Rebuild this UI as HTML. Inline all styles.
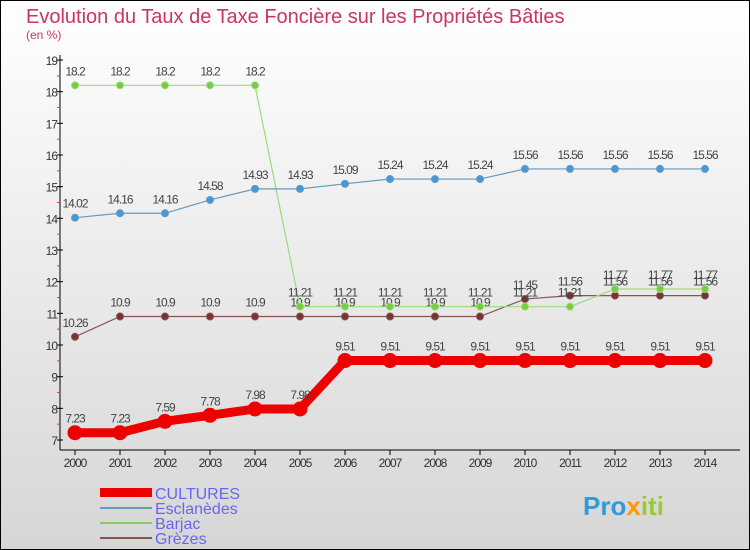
<!DOCTYPE html>
<html><head><meta charset="utf-8"><style>
body{margin:0}
#c{width:750px;height:550px;position:relative;overflow:hidden}
svg text{font-family:"Liberation Sans",sans-serif}
</style></head><body>
<div id="c">
<svg id="s" width="750" height="550" xmlns="http://www.w3.org/2000/svg">
<defs><linearGradient id="bg" x1="0" y1="0" x2="0" y2="1"><stop offset="0" stop-color="#ffffff"/><stop offset="1" stop-color="#d6d6d6"/></linearGradient></defs>
<rect x="0.5" y="0.5" width="749" height="549" fill="url(#bg)" stroke="#000"/>
<text x="26" y="23" font-size="20" fill="#cc3366">Evolution du Taux de Taxe Foncière sur les Propriétés Bâties</text>
<text x="26" y="39" font-size="12" fill="#cc3366">(en %)</text>
<g id="axes"></g><g id="series"></g>
<g>
<rect x="100" y="488" width="52" height="9" fill="#ee0000"/>
<text x="155" y="499" font-size="16" fill="#6666ee">CULTURES</text>
<rect x="100" y="507" width="52" height="2" fill="#6699bb"/>
<text x="155" y="514" font-size="16" fill="#6666ee">Esclanèdes</text>
<rect x="100" y="522" width="52" height="2" fill="#88cc66"/>
<text x="155" y="529" font-size="16" fill="#6666ee">Barjac</text>
<rect x="100" y="537" width="52" height="2" fill="#885555"/>
<text x="155" y="544" font-size="16" fill="#6666ee">Grèzes</text>
</g>
<text x="583" y="515" font-size="26" font-weight="bold" fill="#3399dd">Pro<tspan fill="#ff9900">x</tspan><tspan fill="#99cc33">iti</tspan></text>
</svg></div>
<script>
const years=[2000,2001,2002,2003,2004,2005,2006,2007,2008,2009,2010,2011,2012,2013,2014];
const cultures=[7.23,7.23,7.59,7.78,7.98,7.98,9.51,9.51,9.51,9.51,9.51,9.51,9.51,9.51,9.51];
const esclanedes=[14.02,14.16,14.16,14.58,14.93,14.93,15.09,15.24,15.24,15.24,15.56,15.56,15.56,15.56,15.56];
const barjac=[18.2,18.2,18.2,18.2,18.2,11.21,11.21,11.21,11.21,11.21,11.21,11.21,11.77,11.77,11.77];
const grezes=[10.26,10.9,10.9,10.9,10.9,10.9,10.9,10.9,10.9,10.9,11.45,11.56,11.56,11.56,11.56];
const yTicks=[7,8,9,10,11,12,13,14,15,16,17,18,19];
const NS="http://www.w3.org/2000/svg";
const xs=i=>75+i*45;
const ys=v=>440-(v-7)*(380/12);
function mk(p,t,a){const e=document.createElementNS(NS,t);for(const k in a)e.setAttribute(k,a[k]);p.appendChild(e);return e;}
const ax=document.getElementById('axes'),sg=document.getElementById('series');
let l=mk(ax,'line',{x1:60,y1:55,x2:60,y2:450,stroke:'#000'});


l=mk(ax,'line',{x1:60,y1:450,x2:740,y2:450,stroke:'#000'});


yTicks.forEach(v=>{
 const y=ys(v);
 mk(ax,'line',{x1:57,y1:y,x2:63,y2:y,stroke:'#000'});
 if(v<19)mk(ax,'line',{x1:57,y1:ys(v+0.5),x2:60,y2:ys(v+0.5),stroke:'#ff3333'});
 const t=mk(ax,'text',{x:57,y:y+5,'font-size':12,fill:'#333','text-anchor':'end','letter-spacing':'-1'});
 t.textContent=v;
 
 
});
years.forEach((yr,i)=>{
 mk(ax,'line',{x1:xs(i),y1:450,x2:xs(i),y2:455,stroke:'#000'});
 const t=mk(ax,'text',{x:xs(i),y:467,'font-size':12,fill:'#333','text-anchor':'middle','letter-spacing':'-1'});
 t.textContent=yr;
 
 
});
function draw(vals,name,color,dot,w,r){
 const g=mk(sg,'g',{});
 
 
 const p=mk(g,'polyline',{points:vals.map((v,i)=>xs(i)+','+ys(v)).join(' '),fill:'none',stroke:color,'stroke-width':w});
 
 
 vals.forEach((v,i)=>{
  const c=mk(g,'circle',{cx:xs(i),cy:ys(v),r:r,fill:dot,stroke:color,'stroke-width':1});
  
  
  const t=mk(g,'text',{x:xs(i),y:ys(v)-10,'font-size':12,fill:'#444','text-anchor':'middle','letter-spacing':'-1'});
  t.textContent=v;
  
  
 });
}
draw(grezes,'grezes','#885555','#773333',1.2,3.5);
draw(barjac,'barjac','#99dd77','#77cc44',1.2,3.5);
draw(esclanedes,'esclanedes','#6699bb','#4499dd',1.2,3.5);
draw(cultures,'cultures','#ee0000','#ee0000',9,7);
</script>
</body></html>
